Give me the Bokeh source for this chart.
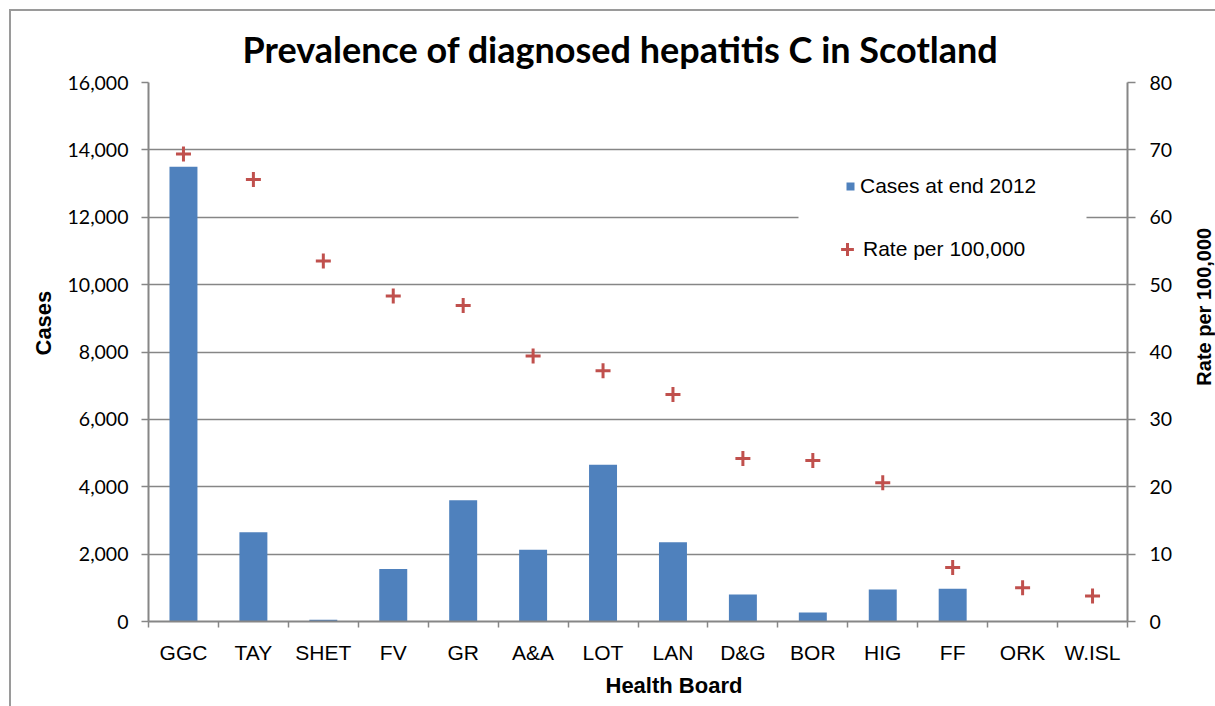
import math
from bokeh.plotting import figure
from bokeh.models import (Range1d, LinearAxis, FixedTicker, NumeralTickFormatter, Title,
                          Legend, LegendItem, BoxAnnotation, ColumnDataSource)
from bokeh.embed import file_html
from bokeh.resources import INLINE

# ---- data ----
categories = ["GGC", "TAY", "SHET", "FV", "GR", "A&A", "LOT", "LAN", "D&G", "BOR", "HIG", "FF", "ORK", "W.ISL"]
cases = [13500, 2650, 50, 1560, 3600, 2130, 4650, 2350, 800, 270, 950, 970, 3, 3]
rates = [69.4, 65.6, 53.5, 48.3, 46.9, 39.4, 37.2, 33.7, 24.2, 23.9, 20.6, 8.0, 5.0, 3.8]
case_ticks = [0, 2000, 4000, 6000, 8000, 10000, 12000, 14000, 16000]
rate_ticks = [0, 10, 20, 30, 40, 50, 60, 70, 80]

BLUE = "#4F81BD"
RED = "#C0504D"
GRID = "#868686"
FRAME = "#9a9a9a"
RATE_TITLE_AT = 35.0   # where the right-hand axis title starts (rate units)

xpos = [i + 0.5 for i in range(len(categories))]
src = ColumnDataSource(dict(x=xpos, cat=categories, cases=cases, rate=rates))

p = figure(frame_width=979, frame_height=539, output_backend="svg", toolbar_location=None,
           x_range=Range1d(0, len(categories)), y_range=Range1d(0, case_ticks[-1]),
           min_border_left=148, min_border_right=0, min_border_top=82, min_border_bottom=85)
p.outline_line_color = None
p.background_fill_color = "white"
p.border_fill_color = None
p.styles = {
    "background": ("linear-gradient(%s,%s) 9px 9px / 1300px 2px no-repeat, "
                   "linear-gradient(%s,%s) 9px 9px / 2px 697px no-repeat, white") % (FRAME, FRAME, FRAME, FRAME)
}

# title
p.title.text = "Prevalence of diagnosed hepatitis C in Scotland"
p.title.align = "left"
p.title.offset = 94
p.title.text_font = "Lato"
p.title.text_font_style = "bold"
p.title.text_font_size = "36px"
p.title.text_color = "black"
p.title.standoff = 24

# grid
p.xgrid.visible = False
p.ygrid.ticker = FixedTicker(ticks=case_ticks)
p.ygrid.grid_line_color = GRID
p.ygrid.grid_line_width = 1.5

# left axis
ya = p.yaxis[0]
ya.ticker = FixedTicker(ticks=case_ticks)
ya.formatter = NumeralTickFormatter(format="0,0")
ya.axis_line_color = GRID
ya.axis_line_width = 2
ya.major_tick_line_color = GRID
ya.major_tick_line_width = 1.5
ya.major_tick_out = 7
ya.major_tick_in = 0
ya.minor_tick_line_color = None
ya.major_label_text_font = "Lato"
ya.major_label_text_font_size = "19.5px"
ya.major_label_text_color = "black"
ya.major_label_standoff = 13

# right axis
p.extra_y_ranges = {"rate": Range1d(0, rate_ticks[-1])}
ra = LinearAxis(y_range_name="rate", ticker=FixedTicker(ticks=rate_ticks))
ra.axis_line_color = GRID
ra.axis_line_width = 2
ra.major_tick_line_color = GRID
ra.major_tick_line_width = 1.5
ra.major_tick_out = 8
ra.major_tick_in = 0
ra.minor_tick_line_color = None
ra.major_label_text_font = "Lato"
ra.major_label_text_font_size = "19.5px"
ra.major_label_text_color = "black"
ra.major_label_standoff = 14
p.add_layout(ra, "right")

# right-hand axis title (reads bottom-to-top)
rt = LinearAxis(y_range_name="rate", ticker=FixedTicker(ticks=[RATE_TITLE_AT]))
rt.major_label_overrides = {RATE_TITLE_AT: "Rate per 100,000"}
rt.major_label_orientation = math.pi / 2
rt.axis_line_color = None
rt.major_tick_line_color = None
rt.minor_tick_line_color = None
rt.major_tick_out = 0
rt.major_tick_in = 0
rt.major_label_standoff = 28
rt.major_label_text_font = "Liberation Sans"
rt.major_label_text_font_style = "bold"
rt.major_label_text_font_size = "20px"
rt.major_label_text_color = "black"
p.add_layout(rt, "right")

# bottom axis
xa = p.xaxis[0]
xa.ticker = FixedTicker(ticks=xpos, minor_ticks=list(range(len(categories) + 1)))
xa.major_label_overrides = {x: c for x, c in zip(xpos, categories)}
xa.axis_line_color = GRID
xa.axis_line_width = 2
xa.major_tick_line_color = None
xa.major_tick_out = 0
xa.major_tick_in = 0
xa.minor_tick_line_color = GRID
xa.minor_tick_line_width = 1.5
xa.minor_tick_out = 6
xa.minor_tick_in = 0
xa.major_label_text_font = "Liberation Sans"
xa.major_label_text_font_size = "21px"
xa.major_label_text_color = "black"
xa.major_label_standoff = 13

# axis titles as side-panel titles
def axis_title(text, offset, standoff):
    return Title(text=text, align="left", offset=offset, standoff=standoff,
                 text_font="Liberation Sans", text_font_style="bold", text_font_size="22px",
                 text_color="black")

p.add_layout(axis_title("Cases", 266, 18), "left")
p.add_layout(axis_title("Health Board", 457, 8), "below")

# data
bars = p.vbar(x="x", top="cases", width=0.4, source=src, fill_color=BLUE, line_color=None)
pts = p.scatter(x="x", y="rate", y_range_name="rate", source=src, marker="cross",
                size=15, line_width=3, line_color=RED)

# white gap behind legend
p.add_layout(BoxAnnotation(left=650, right=938, bottom=394, top=416,
                           left_units="screen", right_units="screen",
                           bottom_units="screen", top_units="screen",
                           fill_color="white", fill_alpha=1, line_color=None))

leg1 = Legend(items=[LegendItem(label="Cases at end 2012", renderers=[bars])],
              location=(697, 423), glyph_width=10, glyph_height=10, label_standoff=5,
              padding=0, margin=0, border_line_color=None, background_fill_alpha=0,
              label_text_font="Liberation Sans", label_text_font_size="21px",
              label_text_color="black")
leg2 = Legend(items=[LegendItem(label="Rate per 100,000", renderers=[pts])],
              location=(683, 356), glyph_width=32, glyph_height=32, label_standoff=0,
              padding=0, margin=0, border_line_color=None, background_fill_alpha=0,
              label_text_font="Liberation Sans", label_text_font_size="21px",
              label_text_color="black")
p.add_layout(leg1)
p.add_layout(leg2)

open("out.html", "w").write(file_html(p, INLINE))
